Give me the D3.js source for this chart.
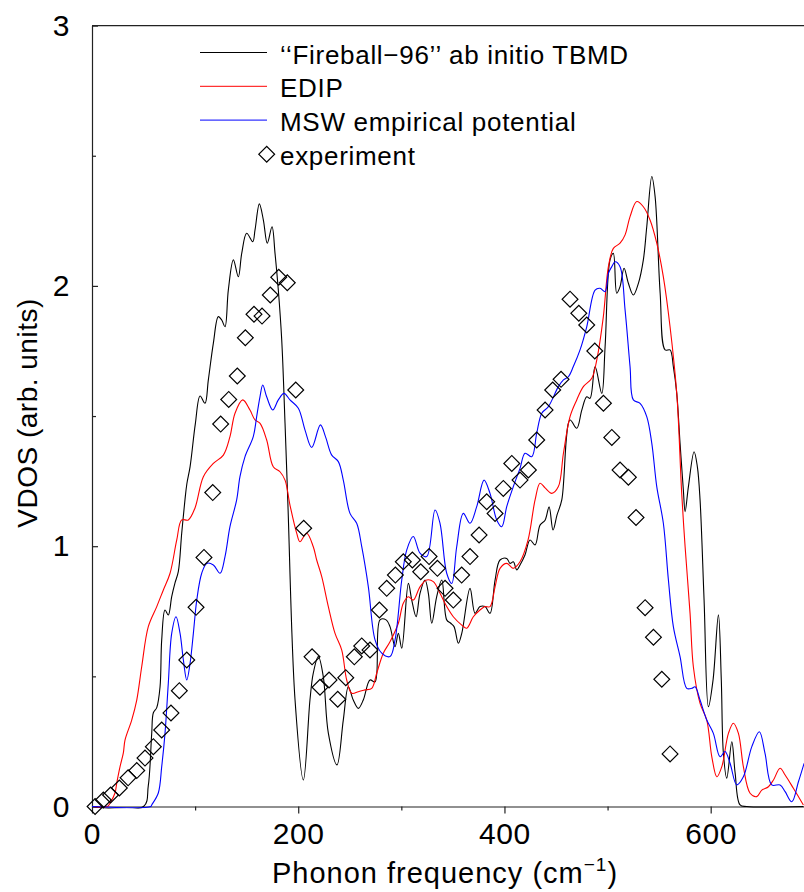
<!DOCTYPE html>
<html>
<head>
<meta charset="utf-8">
<script src="https://cdn.jsdelivr.net/npm/d3@7"></script>
<style>
	body { margin: 0; background: #fff; }
	svg text { font-family: 'Liberation Sans', Arial, sans-serif; fill: #000; }
</style>
</head>
<body>
<div id="chart"></div>
<script>
// phonon frequency (cm-1), VDOS (arb. units)
const fireball = [
	[0, 0], [50, 0], [54.6, 0.08], [57.9, 0.28], [59.5, 0.36], [62.8, 0.38], [66, 0.46], [67.6, 0.64],
	[70.8, 0.755], [74, 0.736], [77.3, 0.806], [80.5, 0.859], [83.7, 0.902], [87, 1.05], [90.2, 1.18],
	[92, 1.24], [95.1, 1.305], [100.2, 1.47], [104.8, 1.577], [109.6, 1.549], [112.8, 1.638], [117.7, 1.78],
	[122.5, 1.882], [125.8, 1.869], [129, 1.843], [132.2, 1.984], [137.1, 2.1], [141.9, 2.035], [145.2, 2.125],
	[150, 2.202], [155.9, 2.17], [158.1, 2.215], [162.3, 2.315], [166.2, 2.253], [170, 2.164], [174.6, 2.227],
	[177.5, 2.125], [180.7, 1.984], [184, 1.792], [187.2, 1.472], [190, 1.16], [196.9, 0.41], [205, 0.102],
	[211.4, 0.41], [214.6, 0.512], [219.5, 0.576], [224.3, 0.499], [229.2, 0.282], [237.6, 0.16], [243.7, 0.332],
	[248.6, 0.46], [253.4, 0.409], [258.3, 0.377], [263.1, 0.409], [269.6, 0.486], [274.5, 0.479], [279.3, 0.717],
	[285.2, 0.717], [289, 0.691], [293.9, 0.614], [297.1, 0.665], [300.4, 0.608], [306.8, 0.857], [310.1, 0.793],
	[314.3, 0.729], [318.1, 0.819], [323, 0.87], [326.2, 0.819], [329.5, 0.704], [334.3, 0.806], [339.2, 0.87],
	[344, 0.717], [347.9, 0.704], [351.1, 0.691], [355.3, 0.627], [358.6, 0.665], [366.6, 0.838], [371.5, 0.742],
	[376.3, 0.768], [381.2, 0.768], [386, 0.742], [390.9, 0.87], [395.7, 0.947], [402.2, 0.953], [405.4, 0.934],
	[408.6, 0.94], [411.9, 0.909], [415.1, 0.928], [419.9, 0.966], [424.8, 1.024], [429.7, 1.005], [434.5, 1.081],
	[439.4, 1.1], [443.3, 1.151], [447.1, 1.062], [451, 1.12], [455.6, 1.178], [463.6, 1.485], [470.1, 1.453],
	[475, 1.523], [479.8, 1.574], [483, 1.568], [487.9, 1.69], [494.4, 1.587], [497.6, 1.766], [502.4, 2.1],
	[505.6, 2.125], [508.9, 1.972], [512.1, 1.997], [516, 2.068], [520.2, 2.01], [525, 1.965], [529.9, 2.01],
	[534.7, 2.1], [538, 2.227], [542.9, 2.42], [546.1, 2.343], [551, 1.972], [555.8, 1.754], [560.6, 1.754],
	[563.8, 1.69], [567.1, 1.587], [570.3, 1.395], [573.5, 1.216], [575.2, 1.133], [578.4, 1.229], [583.9, 1.363],
	[587.1, 1.305], [589.7, 1.178], [593.6, 0.793], [597.8, 0.383], [602.3, 0.486], [607.5, 0.736], [610.3, 0.486],
	[612.3, 0.206], [615.6, 0.109], [620.5, 0.249], [623.7, 0.129], [628.5, 0.006], [635, 0], [690, 0]
]

const edip = [
	[0, 0], [15, 0], [17.5, 0.013], [22.3, 0.052], [24, 0.09], [27.2, 0.153], [30.4, 0.206], [32, 0.255],
	[38.5, 0.332], [43.4, 0.409], [48.2, 0.537], [54.6, 0.691], [62.8, 0.768], [69.2, 0.832], [75.7, 0.896],
	[82.2, 1.024], [87, 1.101], [93.4, 1.101], [99.9, 1.147], [108, 1.267], [117.7, 1.318], [127.4, 1.35],
	[133.8, 1.421], [138.7, 1.511], [146.2, 1.562], [153.2, 1.523], [158.1, 1.485], [163, 1.472], [169.4, 1.408],
	[175.8, 1.305], [182.3, 1.286], [187.2, 1.254], [192, 1.158], [198.5, 1.05], [201.7, 1.017], [208.2, 1.05],
	[214.6, 0.998], [217.9, 0.947], [222.8, 0.883], [229.2, 0.768], [235.7, 0.665], [242.2, 0.601], [247, 0.486],
	[251.9, 0.435], [258.3, 0.441], [264.8, 0.448], [271.3, 0.454], [276.1, 0.512], [282.5, 0.589], [289, 0.633],
	[297.1, 0.704], [301.9, 0.781], [306.8, 0.806], [311.6, 0.793], [318.1, 0.844], [324.6, 0.87], [331, 0.864],
	[337.5, 0.819], [344, 0.768], [350.4, 0.729], [358.6, 0.697], [363.4, 0.685], [369.8, 0.729], [376.3, 0.755],
	[381.2, 0.768], [386, 0.768], [390.9, 0.844], [395.7, 0.915], [402.2, 0.934], [408.6, 0.915], [415.1, 0.94],
	[422.9, 1.024], [429.7, 1.178], [434.5, 1.242], [439.4, 1.224], [445.9, 1.203], [452.3, 1.229], [457.2, 1.357],
	[463.6, 1.498], [470.1, 1.562], [476.5, 1.613], [484.7, 1.645], [489.5, 1.715], [495.9, 1.882], [500.8, 2.074],
	[505.6, 2.144], [512.1, 2.164], [517, 2.196], [521.8, 2.266], [528.3, 2.324], [534.7, 2.304], [541.2, 2.253],
	[547.7, 2.164], [554.1, 2.035], [560.6, 1.843], [567.1, 1.587], [571.9, 1.203], [575.2, 0.998], [580, 0.742],
	[583.2, 0.537], [589.7, 0.396], [596.2, 0.332], [601.1, 0.191], [606, 0.114], [610.8, 0.153], [617.2, 0.281],
	[622, 0.32], [626.9, 0.281], [631.7, 0.153], [638.2, 0.051], [644.7, 0.038], [649.6, 0.063], [656, 0.076],
	[660.9, 0.102], [667.3, 0.147], [672.2, 0.121], [680.2, 0.07], [689.9, 0.006]
]

const msw = [
	[0, 0], [57, 0], [57.9, 0.006], [64.3, 0.052], [67.6, 0.153], [70.8, 0.281], [74, 0.473], [77.3, 0.665],
	[81.5, 0.729], [85.4, 0.665], [88.6, 0.563], [91.9, 0.486], [95.1, 0.55], [98.3, 0.665], [101.6, 0.793],
	[106.4, 0.896], [111.3, 0.934], [117.7, 0.928], [124.2, 0.896], [129, 0.96], [133.8, 1.075], [140.3, 1.178],
	[143.5, 1.267], [148.4, 1.344], [156.4, 1.421], [159.7, 1.498], [162.9, 1.574], [165.6, 1.619], [169.4, 1.574],
	[175.3, 1.523], [180.7, 1.562], [186.2, 1.587], [192, 1.562], [200.1, 1.53], [206.6, 1.446], [213.1, 1.379],
	[221.5, 1.466], [226.5, 1.42], [232.5, 1.35], [238.9, 1.325], [243.7, 1.254], [250.2, 1.126], [256.7, 1.088],
	[261.6, 0.998], [268, 0.844], [274.5, 0.64], [281, 0.589], [289, 0.576], [293.9, 0.64], [300.4, 0.87],
	[305.2, 0.985], [311.6, 1.037], [318.1, 0.973], [324.6, 0.96], [332.7, 1.139], [337.5, 1.088], [344, 0.896],
	[348.9, 0.857], [353.7, 0.998], [360.1, 1.126], [366.6, 1.088], [373.1, 1.152], [380.2, 1.254], [386, 1.203],
	[392.5, 1.101], [397.4, 1.075], [402.2, 1.152], [408.6, 1.229], [415.1, 1.299], [420, 1.357], [426.5, 1.344],
	[431.3, 1.434], [436.2, 1.511], [442.6, 1.536], [452.3, 1.613], [457.2, 1.639], [462, 1.651], [466.8, 1.69],
	[473.3, 1.754], [479.8, 1.843], [487.9, 1.984], [492.7, 1.991], [497.6, 1.978], [500.8, 2.048], [504.1, 2.074],
	[507.3, 2.093], [512.1, 2.074], [517, 1.907], [521.8, 1.69], [525, 1.562], [531.5, 1.549], [538, 1.498],
	[542.9, 1.395], [547.7, 1.229], [554.1, 1.088], [559, 0.87], [563.8, 0.691], [570.3, 0.576], [576.8, 0.454],
	[581.7, 0.454], [584.9, 0.46], [589.7, 0.409], [596.2, 0.332], [602.6, 0.281], [609.1, 0.191], [613.9, 0.211],
	[618.8, 0.166], [625.3, 0.083], [631.7, 0.114], [639.9, 0.23], [647.2, 0.287], [652.7, 0.204], [659.2, 0.083],
	[667.3, 0.083], [672.2, 0.057], [678.7, 0.018], [685.1, 0.095], [690.6, 0.166]
]

const experiment = [
	[3, 0.0], [11, 0.025], [18, 0.044], [26.5, 0.071], [35, 0.11], [43.4, 0.138], [51.4, 0.186], [59.5, 0.23],
	[67.6, 0.294], [76.6, 0.359], [84.7, 0.445], [91.9, 0.563], [100.9, 0.765], [108.6, 0.957], [117.1, 1.206],
	[124.8, 1.469], [132.6, 1.564], [140.9, 1.654], [148.7, 1.801], [157.1, 1.891], [164.9, 1.884], [172.9, 1.965],
	[181.1, 2.033], [189.4, 2.012], [197.6, 1.6], [205.3, 1.069], [213.4, 0.575], [221.1, 0.458], [229.9, 0.486],
	[238.3, 0.412], [246.1, 0.495], [254.4, 0.575], [261.6, 0.617], [269.6, 0.601], [278.7, 0.755], [285.8, 0.838],
	[294.2, 0.889], [301.9, 0.94], [310.7, 0.947], [318.8, 0.902], [326.9, 0.96], [335, 0.915], [342.4, 0.838],
	[350.4, 0.793], [358.5, 0.889], [366.6, 0.96], [375.4, 1.043], [382.8, 1.171], [390.9, 1.126], [398.9, 1.222],
	[407.1, 1.318], [415.1, 1.254], [423.2, 1.293], [431.3, 1.408], [439.4, 1.523], [446.8, 1.6], [454.9, 1.641],
	[463.6, 1.949], [472.1, 1.895], [479.8, 1.85], [487.6, 1.75], [496, 1.549], [504.1, 1.418], [512.1, 1.293],
	[520.2, 1.265], [527.6, 1.11], [536.4, 0.764], [544.5, 0.65], [552.6, 0.489], [560.6, 0.202]
]

const series = [
	{ name: '\u2018\u2018Fireball\u221296\u2019\u2019 ab initio TBMD', color: '#000', values: fireball },
	{ name: 'EDIP', color: '#ff0000', values: edip },
	{ name: 'MSW empirical potential', color: '#0000ff', values: msw }
]

const xMajor = [0, 200, 400, 600]
const xMinor = [100, 300, 500]
const yMajor = [0, 1, 2, 3]
const yMinor = [0.5, 1.5, 2.5]

const width = 804
const height = 892
const plot = { left: 92, right: 804, top: 25.6, bottom: 806.5 }

const x = d3.scaleLinear().domain([0, 690.5]).range([plot.left, plot.right])
const y = d3.scaleLinear().domain([0, 3]).range([plot.bottom, plot.top])

const svg = d3
	.select('#chart')
	.append('svg')
	.attr('width', width)
	.attr('height', height)

svg.append('defs')
	.append('clipPath')
	.attr('id', 'plotClip')
	.append('rect')
	.attr('x', plot.left)
	.attr('y', plot.top - 2)
	.attr('width', plot.right - plot.left)
	.attr('height', plot.bottom - plot.top + 4)

// axes
const styleAxis = g => {
	g.selectAll('path, line').attr('stroke', '#222').attr('stroke-width', 1.2)
	g.selectAll('text')
		.style('font-family', "'Liberation Sans', Arial, sans-serif")
		.style('font-size', '30px')
		.style('letter-spacing', '0.6px')
		.attr('fill', '#000')
}

svg.append('g')
	.attr('transform', `translate(0,${plot.bottom})`)
	.call(
		d3.axisBottom(x)
			.tickValues(xMajor)
			.tickSizeInner(7)
			.tickSizeOuter(0)
			.tickPadding(9)
			.tickFormat(d3.format('d'))
	)
	.call(styleAxis)

svg.append('g')
	.attr('transform', `translate(0,${plot.bottom})`)
	.call(d3.axisBottom(x).tickValues(xMinor).tickSize(4).tickFormat(''))
	.call(styleAxis)
	.select('.domain')
	.remove()

svg.append('g')
	.attr('transform', `translate(${plot.left},0)`)
	.call(
		d3.axisLeft(y)
			.tickValues(yMajor)
			.tickSizeInner(-6)
			.tickSizeOuter(0)
			.tickPadding(22)
			.tickFormat(d3.format('d'))
	)
	.call(styleAxis)

svg.append('g')
	.attr('transform', `translate(${plot.left},0)`)
	.call(d3.axisLeft(y).tickValues(yMinor).tickSize(-4).tickFormat(''))
	.call(styleAxis)
	.select('.domain')
	.remove()

// top frame
svg.append('line')
	.attr('x1', plot.left)
	.attr('x2', plot.right)
	.attr('y1', y(3))
	.attr('y2', y(3))
	.attr('stroke', '#222')
	.attr('stroke-width', 1.2)

// curves
const line = d3
	.line()
	.x(d => x(d[0]))
	.y(d => y(d[1]))
	.curve(d3.curveCatmullRom.alpha(0.5))

const curves = svg.append('g').attr('clip-path', 'url(#plotClip)')

curves.selectAll('path')
	.data(series)
	.enter()
	.append('path')
	.attr('d', d => line(d.values))
	.attr('fill', 'none')
	.attr('stroke', d => d.color)
	.attr('stroke-width', 1.1)

// experiment diamonds
const diamond = d3.symbol().type(d3.symbolSquare).size(125)

svg.append('g')
	.selectAll('path')
	.data(experiment)
	.enter()
	.append('path')
	.attr('d', diamond)
	.attr('transform', d => `translate(${x(d[0])},${y(d[1])}) rotate(45)`)
	.attr('fill', 'none')
	.attr('stroke', '#000')
	.attr('stroke-width', 1.2)

// legend
const legend = svg.append('g').attr('transform', 'translate(200,52.5)')

const rows = legend
	.selectAll('g')
	.data(series)
	.enter()
	.append('g')
	.attr('transform', (d, i) => `translate(0,${i * 33.8})`)

rows.append('line')
	.attr('x1', 0)
	.attr('x2', 67)
	.attr('stroke', d => d.color)
	.attr('stroke-width', 1)

rows.append('text')
	.attr('x', 80)
	.attr('y', 11)
	.style('font-size', '26px')
	.style('letter-spacing', '0.7px')
	.text(d => d.name)

legend.append('path')
	.attr('d', diamond)
	.attr('transform', `translate(66.7,101.8) rotate(45)`)
	.attr('fill', 'none')
	.attr('stroke', '#000')
	.attr('stroke-width', 1.2)

legend.append('text')
	.attr('x', 80)
	.attr('y', 112.5)
	.style('font-size', '26px')
	.style('letter-spacing', '0.7px')
	.text('experiment')

// axis titles
const xTitle = svg.append('text')
	.attr('x', 445)
	.attr('y', 883)
	.attr('text-anchor', 'middle')
	.style('font-size', '29px')
	.style('letter-spacing', '1px')

xTitle.append('tspan').text('Phonon frequency (cm')
xTitle.append('tspan').attr('dy', -12).style('font-size', '19px').text('\u22121')
xTitle.append('tspan').attr('dy', 12).text(')')

svg.append('text')
	.attr('transform', 'translate(37,413) rotate(-90)')
	.attr('text-anchor', 'middle')
	.style('font-size', '28px')
	.style('letter-spacing', '0.5px')
	.text('VDOS (arb. units)')
</script>
</body>
</html>
